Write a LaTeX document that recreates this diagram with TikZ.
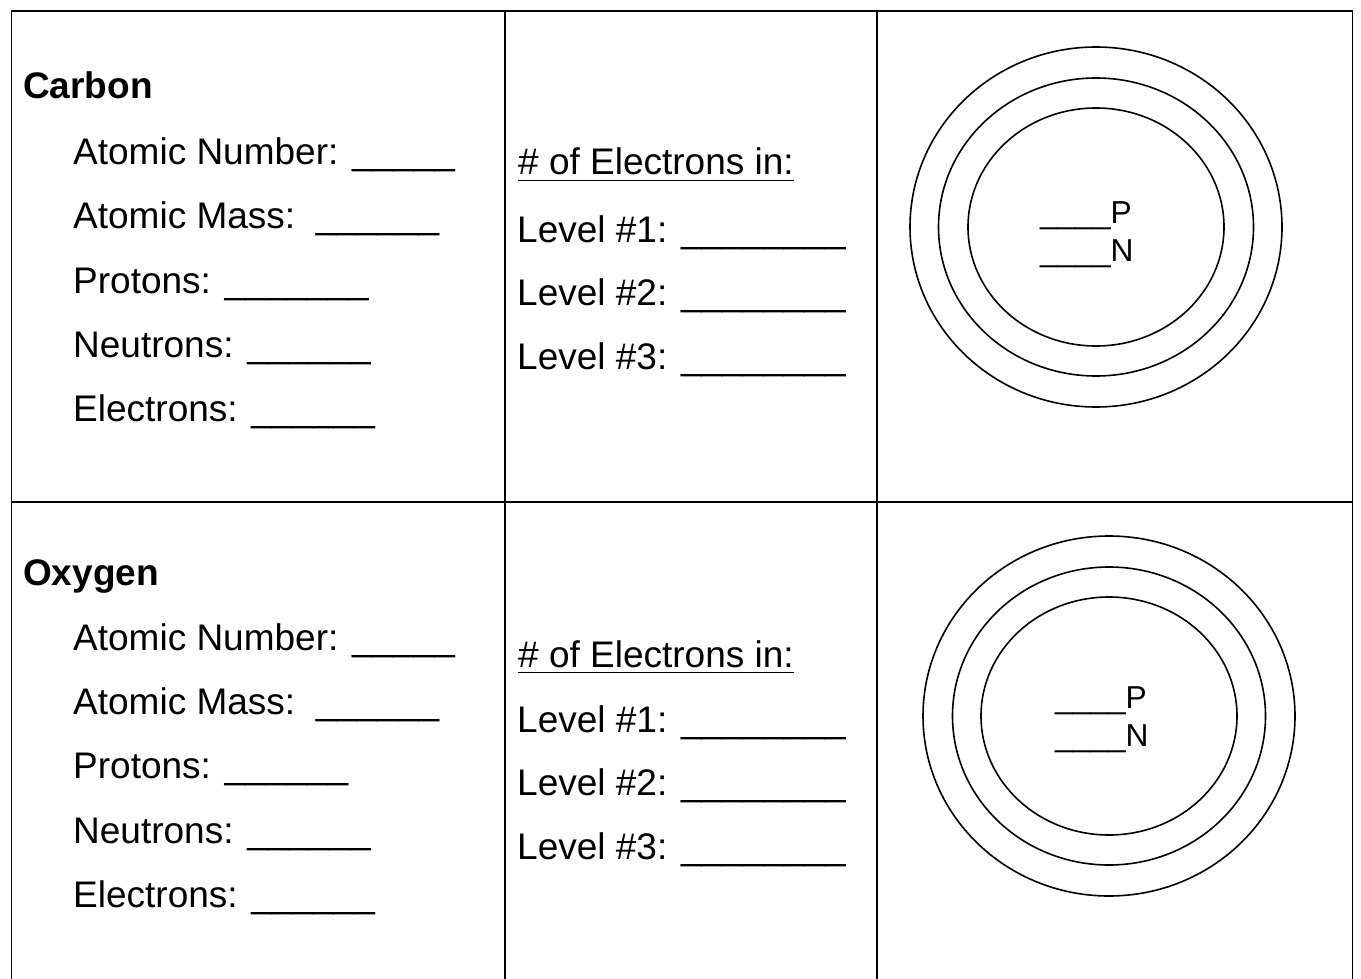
\documentclass[tikz,border=0pt]{standalone}
\usepackage{fontspec}
\setmainfont{Liberation Sans}
\usetikzlibrary{positioning}

\begin{document}
\begin{tikzpicture}[
  x=1pt,y=-1pt,
  grid/.style={line width=1.9pt},
  shell/.style={line width=1.6pt},
  every node/.style={inner sep=0pt,anchor=base west,font=\fontsize{37}{44}\selectfont},
  elem/.style={font=\fontsize{37}{44}\selectfont\bfseries},
  nucl/.style={font=\fontsize{31.7}{38}\selectfont}
]
  \useasboundingbox (0,0) rectangle (1361,979);
  % table
  \draw[grid] (11.5,979) -- (11.5,11) -- (1352.5,11) -- (1352.5,979);
  \draw[grid] (11.5,502) -- (1352.5,502);
  \draw[grid] (505,11) -- (505,979);
  \draw[grid] (877,11) -- (877,979);

  % carbon
  \node[elem] (carbon) at (23,99) {Carbon};
  \node (cAnum) at (73,165) {Atomic Number: \_\_\_\_\_};
  \node (cAmass) at (73,229) {Atomic Mass:\ \ \_\_\_\_\_\_};
  \node (cProt) at (73,293) {Protons: \_\_\_\_\_\_\_};
  \node (cNeut) at (73,357) {Neutrons: \_\_\_\_\_\_};
  \node (cElec) at (73,421) {Electrons: \_\_\_\_\_\_};
  \node (cHead) at (518,175) {\underline{\# of Electrons in:\rule[-4pt]{0pt}{1pt}}};
  \node (cLv1) at (517,242) {Level \#1: \_\_\_\_\_\_\_\_};
  \node (cLv2) at (517,305) {Level \#2: \_\_\_\_\_\_\_\_};
  \node (cLv3) at (517,369) {Level \#3: \_\_\_\_\_\_\_\_};
  \coordinate (cAtom) at (1096,227);
  \draw[shell] (cAtom) ellipse [x radius=186pt,y radius=180pt];
  \draw[shell] (cAtom) ellipse [x radius=157.5pt,y radius=149pt];
  \draw[shell] (cAtom) ellipse [x radius=128pt,y radius=119pt];
  \node[nucl] (cP) at (1040,223) {\_\_\_\_P};
  \node[nucl] (cN) at (1040,261) {\_\_\_\_N};

  % oxygen
  \node[elem] (oxygen) at (23,585) {Oxygen};
  \node (oAnum) at (73,650) {Atomic Number: \_\_\_\_\_};
  \node (oAmass) at (73,714) {Atomic Mass:\ \ \_\_\_\_\_\_};
  \node (oProt) at (73,778) {Protons: \_\_\_\_\_\_};
  \node (oNeut) at (73,843) {Neutrons: \_\_\_\_\_\_};
  \node (oElec) at (73,907) {Electrons: \_\_\_\_\_\_};
  \node (oHead) at (518,667) {\underline{\# of Electrons in:\rule[-4pt]{0pt}{1pt}}};
  \node (oLv1) at (517,732) {Level \#1: \_\_\_\_\_\_\_\_};
  \node (oLv2) at (517,795) {Level \#2: \_\_\_\_\_\_\_\_};
  \node (oLv3) at (517,859) {Level \#3: \_\_\_\_\_\_\_\_};
  \coordinate (oAtom) at (1109,716);
  \draw[shell] (oAtom) ellipse [x radius=186pt,y radius=180pt];
  \draw[shell] (oAtom) ellipse [x radius=156.5pt,y radius=149pt];
  \draw[shell] (oAtom) ellipse [x radius=128pt,y radius=119pt];
  \node[nucl] (oP) at (1055,708) {\_\_\_\_P};
  \node[nucl] (oN) at (1055,746) {\_\_\_\_N};
\end{tikzpicture}
\end{document}
